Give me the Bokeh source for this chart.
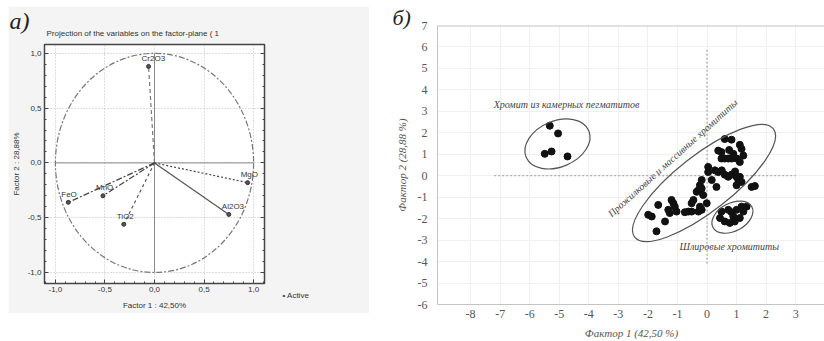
from bokeh.plotting import figure
from bokeh.models import FixedTicker, LinearAxis, Range1d, Spacer, Span, Title
from bokeh.layouts import row, column
from bokeh.embed import file_html
from bokeh.resources import INLINE
from bokeh.core.properties import value

# ---------------- panel a) : projection of the variables ----------------
variables = ["Cr2O3", "MgO", "Al2O3", "TiO2", "MnO", "FeO"]
loading_f1 = [-0.06, 0.94, 0.75, -0.31, -0.52, -0.87]
loading_f2 = [0.88, -0.18, -0.47, -0.56, -0.30, -0.36]
a_ticks = [-1.0, -0.5, 0.0, 0.5, 1.0]
a_tick_labels = ["-1,0", "-0,5", "0,0", "0,5", "1,0"]
a_title = "Projection of the variables on the factor-plane ( 1"
a_xlabel = "Factor 1 : 42,50%"
a_ylabel = "Factor 2 : 28,88%"
a_legend = "Active"
unit_extent = [-1.0, 1.0]

# ---------------- panel б) : factor scores ----------------
peg_x = [-5.32, -5.04, -5.49, -5.26, -4.72]
peg_y = [2.33, 1.97, 1.02, 1.13, 0.90]

vein_x = [0.60, 0.83, 1.11, 1.17, 0.38, 0.49, 0.89, 1.23, 0.49, 0.60, 0.72, 0.83,
          1.00, 1.11, 0.04, 0.27, 0.38, 0.04, 0.60, 0.72, 0.83, 1.00, 1.11, 1.06,
          1.17, 1.00, 1.51, 1.62, 0.16, -0.18, -0.24, -0.29, -0.35, -0.18, -0.13,
          0.32, -0.01, -0.24, -0.18, -0.29, -0.46, -0.52, -0.52, -0.63, -0.75,
          -1.03, -1.20, -1.14, -1.09, -1.31, -1.26, -1.65, -1.99, -1.87, -1.42,
          -1.71, 0.50, 0.95, 0.75]
vein_y = [1.71, 1.68, 1.44, 1.25, 1.17, 1.10, 1.02, 0.94, 0.80, 0.80, 0.80, 0.80,
          0.80, 0.64, 0.41, 0.25, 0.17, 0.17, 0.05, -0.05, 0.05, -0.05, -0.05, -0.20,
          -0.29, -0.44, -0.52, -0.48, -0.20, -0.20, -0.44, -0.67, -0.75, -0.59, -0.90,
          -0.52, -1.28, -1.44, -1.59, -1.67, -1.13, -1.28, -1.67, -1.67, -1.70,
          -1.67, -1.13, -1.28, -1.44, -1.59, -1.74, -1.36, -1.82, -1.90, -2.13,
          -2.59, 0.25, 0.20, 1.20]

schl_x = [0.49, 0.72, 0.83, 1.00, 1.17, 1.34, 1.23, 0.44, 0.60, 0.77, 0.94, 1.11, 0.89]
schl_y = [-1.67, -1.59, -1.70, -1.59, -1.44, -1.44, -1.67, -1.97, -2.13, -2.20, -2.13, -1.97, -1.90]

b_xticks = [-8, -7, -6, -5, -4, -3, -2, -1, 0, 1, 2, 3]
b_xtick_labels = ["-8", "-7", "-6", "-5", "-4", "-3", "-2", "-1", "0", "1", "2", "3"]
b_yticks = [-6, -5, -4, -3, -2, -1, 0, 1, 2, 3, 4, 5, 6, 7]
b_ytick_labels = ["-6", "-5", "-4", "-3", "-2", "-1", "0", "1", "2", "3", "4", "5", "6", "7"]
b_xlabel = "Фактор 1 (42,50 %)"
b_ylabel = "Фактор 2 (28,88 %)"

group_names = ["Хромит из камерных пегматитов",
               "Прожилковые и массивные хромититы",
               "Шлировые хромититы"]
group_label_x = [-7.22, -1.16, -0.93]
group_label_y = [3.32, 0.83, -3.30]
group_center_x = [-5.06, -0.10, 0.86]
group_center_y = [1.48, -0.34, -1.93]
cross_v = [0.0, -4.1, 5.9]   # x, y from, y to
cross_h = [0.0, -7.2, 3.0]   # y, x from, x to

# ---------------- styles ----------------
vector_dashes = ["4 3", "2 2", "solid", "3 3", "6 2 2 2", "6 2 2 2"]
vector_colors = ["#777777", "#444444", "#555555", "#555555", "#444444", "#444444"]
ell_w_px = [68, 176, 44]
ell_h_px = [46, 56, 28]
ell_angle = [23, 38, 28]
label_angle = [0, 42, 0]
label_align = ["left", "center", "left"]

SANS = "Liberation Sans"
SERIF = "Liberation Serif"

# ======================= panel a =======================
pa = figure(title=None, frame_width=220, frame_height=239,
            min_border_left=35, min_border_right=105,
            min_border_top=38, min_border_bottom=30,
            x_range=Range1d(-1.11, 1.11), y_range=Range1d(-1.10, 1.08),
            output_backend="svg", toolbar_location=None,
            background_fill_color="white", border_fill_color="#f4f4f4",
            outline_line_color="#444444", outline_line_width=1.5)

a_minor = [round(-1.1 + 0.1 * i, 2) for i in range(23)]
for ax in (pa.xaxis[0], pa.yaxis[0]):
    ax.ticker = FixedTicker(ticks=a_ticks, minor_ticks=a_minor)
    ax.major_label_overrides = dict(zip(a_ticks, a_tick_labels))
    ax.axis_line_color = None
    ax.major_tick_in = 4
    ax.major_tick_out = 0
    ax.minor_tick_in = 2
    ax.minor_tick_out = 0
    ax.major_tick_line_color = "#444444"
    ax.minor_tick_line_color = "#444444"
    ax.major_label_text_font = SANS
    ax.major_label_text_font_size = "8px"
    ax.major_label_text_color = "#333333"
    ax.major_label_standoff = 3
    ax.axis_label_text_font = SANS
    ax.axis_label_text_font_size = "8px"
    ax.axis_label_text_font_style = "normal"
    ax.axis_label_text_color = "#333333"
pa.xaxis.axis_label_standoff = 6
pa.yaxis.axis_label_standoff = 4
pa.xaxis.axis_label = a_xlabel
pa.yaxis.axis_label = a_ylabel

# tick marks along the right edge of the frame
pa.add_layout(LinearAxis(ticker=FixedTicker(ticks=a_ticks, minor_ticks=a_minor),
                         axis_line_color=None, major_tick_in=4, major_tick_out=0,
                         minor_tick_in=2, minor_tick_out=0,
                         major_tick_line_color="#444444",
                         minor_tick_line_color="#444444",
                         major_label_text_color=None,
                         major_label_text_font_size="6px"), "right")

pa.add_layout(Title(text=a_title, align="left", offset=2, standoff=14,
                    text_font=SANS, text_font_size="8px", text_font_style="normal",
                    text_color="#333333"), "above")
pa.add_layout(Title(text="a)", align="left", offset=-35, standoff=-28,
                    text_font=SERIF, text_font_size="24px", text_font_style="italic",
                    text_color="#222222"), "above")
pa.add_layout(Title(text="\u2022  " + a_legend, align="right", offset=-47,
                    standoff=-44, vertical_align="top", text_font=SANS,
                    text_font_size="8px", text_font_style="normal",
                    text_color="#333333"), "below")

pa.grid.grid_line_color = "#bdbdbd"
pa.grid.grid_line_dash = "1 2"

# unit circle
pa.ellipse(x=0, y=0, width=unit_extent[1] - unit_extent[0],
           height=unit_extent[1] - unit_extent[0],
           fill_color=None, line_color="#777777", line_width=1.2, line_dash="6 2 2 2")
# zero axes
pa.segment(x0=[unit_extent[0], 0], y0=[0, unit_extent[0]],
           x1=[unit_extent[1], 0], y1=[0, unit_extent[1]],
           line_color="#888888", line_width=1)

for fx, fy, dash, col in zip(loading_f1, loading_f2, vector_dashes, vector_colors):
    pa.segment(x0=[0], y0=[0], x1=[fx], y1=[fy], line_color=col,
               line_width=1.2, line_dash=dash)

pa.scatter(loading_f1, loading_f2, marker="circle", size=4,
           fill_color="#555555", line_color="#333333")
pa.text(x=loading_f1, y=loading_f2, text=variables, x_offset=-7, y_offset=-8,
        text_font=value(SANS), text_font_size="8px", text_color="#333333",
        text_align="left", text_baseline="middle")

# ======================= panel б =======================
pb = figure(title=None, frame_width=388, frame_height=279,
            min_border_left=48, min_border_right=0,
            min_border_top=25, min_border_bottom=37,
            x_range=Range1d(-9.12, 4.01), y_range=Range1d(-6, 7),
            output_backend="svg", toolbar_location=None,
            background_fill_color="white", border_fill_color="white",
            outline_line_color=None)

for ax, ticks, labs in ((pb.xaxis[0], b_xticks, b_xtick_labels),
                        (pb.yaxis[0], b_yticks, b_ytick_labels)):
    ax.ticker = FixedTicker(ticks=ticks)
    ax.major_label_overrides = dict(zip(ticks, labs))
    ax.axis_line_color = "#c4c4c4"
    ax.major_tick_line_color = None
    ax.minor_tick_line_color = None
    ax.major_label_text_font = SERIF
    ax.major_label_text_font_size = "12px"
    ax.major_label_text_color = "#555555"
    ax.axis_label_text_font = SERIF
    ax.axis_label_text_font_size = "11px"
    ax.axis_label_text_font_style = "italic"
    ax.axis_label_text_color = "#555555"
pb.xaxis.major_label_standoff = -1
pb.xaxis.axis_label_standoff = 6
pb.yaxis.major_label_standoff = 4
pb.yaxis.axis_label_standoff = 7
pb.xaxis.axis_label = b_xlabel
pb.yaxis.axis_label = b_ylabel
pb.grid.grid_line_color = "#f0f0f0"
pb.add_layout(Span(location=7, dimension="width", line_color="#c4c4c4", line_width=2))

pb.add_layout(Title(text="б)", align="left", offset=-45, standoff=-8,
                    text_font=SERIF, text_font_size="22px", text_font_style="italic",
                    text_color="#222222"), "above")

pb.segment(x0=[cross_v[0], cross_h[1]], y0=[cross_v[1], cross_h[0]],
           x1=[cross_v[0], cross_h[2]], y1=[cross_v[2], cross_h[0]],
           line_color="#9a9a9a", line_width=1, line_dash="2 2")

for gx, gy in ((peg_x, peg_y), (vein_x, vein_y), (schl_x, schl_y)):
    pb.scatter(gx, gy, marker="circle", size=7, fill_color="#111111",
               line_color="#111111")

pb.ellipse(x=group_center_x, y=group_center_y, width=ell_w_px, height=ell_h_px,
           width_units="screen", height_units="screen",
           angle=ell_angle, angle_units="deg",
           fill_color=None, line_color="#555555", line_width=1.2)

for name, lx, ly, ang, al in zip(group_names, group_label_x, group_label_y,
                                 label_angle, label_align):
    pb.text(x=[lx], y=[ly], text=[name], angle=ang, angle_units="deg",
            text_font=value(SERIF), text_font_style="italic",
            text_font_size="10px", text_color="#444444",
            text_align=al, text_baseline="middle")

left_col = column(Spacer(height=6), pa)
layout = row(Spacer(width=8), left_col, Spacer(width=20), pb)
open("out.html", "w").write(file_html(layout, INLINE))
